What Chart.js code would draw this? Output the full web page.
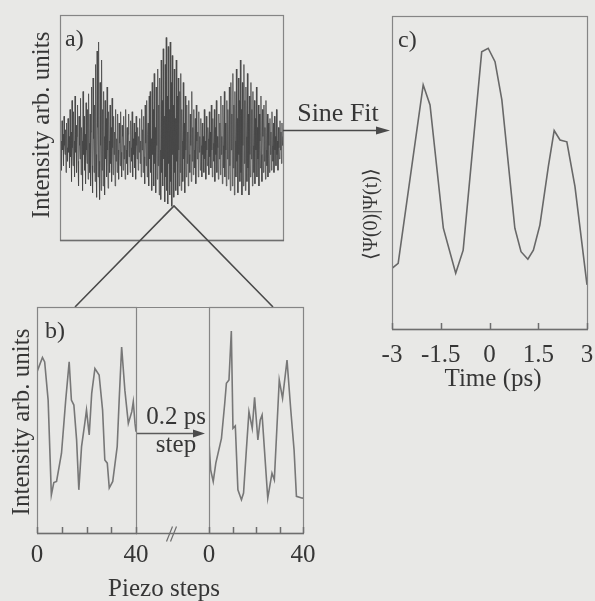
<!DOCTYPE html>
<html>
<head>
<meta charset="utf-8">
<script src="https://cdn.jsdelivr.net/npm/chart.js@4.4.1/dist/chart.umd.min.js"></script>
<style>
  html, body { margin: 0; padding: 0; background: #e8e8e6; }
  #page { position: relative; width: 595px; height: 601px; overflow: hidden; background: #e8e8e6; }
  #page canvas { position: absolute; left: 0; top: 0; }
</style>
</head>
<body>
<div id="page">
  <canvas id="chartA" width="595" height="601"></canvas>
  <canvas id="chartB1" width="595" height="601"></canvas>
  <canvas id="chartB2" width="595" height="601"></canvas>
  <canvas id="chartC" width="595" height="601"></canvas>
</div>
<script>
// a) raw interferogram, two samples per pixel of scan (arb. units)
var rawIntensity = [
  50,36,44,31,53,40,47,33,55,42,38,49,30,52,41,35,54,39,46,32,
  58,37,48,26,62,41,33,57,44,28,64,39,51,30,46,60,35,24,55,42,
  36,63,29,50,44,22,66,38,55,31,47,25,61,40,34,58,27,65,43,30,
  56,24,48,68,33,21,72,45,30,60,26,78,38,19,84,50,28,88,35,18,
  70,42,22,80,31,58,24,66,46,20,62,36,54,28,68,40,23,57,44,30,
  60,34,50,26,63,41,29,55,38,48,24,58,35,45,30,56,40,27,52,43,
  33,57,39,28,51,46,31,55,36,42,27,58,40,34,50,29,47,56,37,44,
  30,53,41,35,57,28,45,38,52,32,48,27,55,42,36,50,31,46,39,54,
  34,44,28,58,40,49,30,55,37,25,60,43,33,62,28,47,52,24,64,36,
  66,30,45,22,70,38,58,24,74,34,50,21,68,42,27,76,33,60,20,72,
  40,18,80,30,62,24,85,36,55,17,78,28,90,22,64,16,86,34,58,20,
  88,26,70,15,82,38,60,19,76,30,54,22,80,35,64,20,72,40,24,66,
  30,74,22,58,44,26,70,36,52,21,64,40,28,60,34,48,24,62,38,30,
  56,42,26,66,35,50,29,58,40,32,54,25,60,44,36,48,28,57,39,46,
  31,54,42,28,52,38,46,30,58,36,44,27,55,40,33,50,45,29,57,37,
  48,32,60,40,28,54,43,35,58,26,50,38,62,30,46,41,27,56,36,52,
  29,64,38,46,25,60,42,32,66,28,52,40,24,62,36,58,27,48,68,33,
  22,70,40,56,24,74,32,60,20,66,44,28,76,35,54,21,72,38,62,26,
  80,30,58,20,70,42,24,78,34,62,22,68,46,26,74,32,56,20,64,38,
  28,70,36,58,24,66,42,30,62,25,54,40,68,28,50,36,60,24,56,44,
  32,64,38,26,58,46,30,60,35,50,27,62,40,33,56,28,52,42,30,54,
  38,48,31,57,42,35,52,30,55,40,46,33,58,38,44,31,50,41,36,53,
  40,48,34,52,42,46
];

// b) two piezo scans, 0.2 ps apart
var stepsLeft = [0,2.2,3.1,4.5,5.8,6.8,7.9,9.9,11.6,13.0,13.9,14.9,16.0,16.9,18.0,19.3,20.0,21.1,22.1,23.4,25.1,26.5,27.4,28.4,29.2,30.6,32.4,33.2,34.2,35.5,36.9,38.3,38.9,39.6,40];
var intensityLeft = [71.3,77.7,75.7,58.8,16.9,22.3,22.8,35.3,58.8,75.7,58.8,56.6,41.2,19.1,38.2,48.5,54.4,43.4,61.8,72.8,69.9,54.4,32.3,30.9,19.9,22.8,38.2,58.8,82.3,63.2,48.5,53.7,58.1,48.5,44.8];
var stepsRight = [0,0.7,1.8,2.9,5.3,6.7,7.4,8.5,9.5,10.2,11.2,12.3,13.8,14.7,15.9,17.0,18.4,19.4,20.8,21.8,22.6,23.6,25.0,26.8,27.8,29.9,31.3,33.2,34.8,36.2,37.2,39.7,40];
var intensityRight = [40.4,27.9,22.8,30.9,41.9,57.4,66.2,67.7,89.4,46.3,47.4,19.1,14.7,17.7,36.8,53.7,46.3,60.0,41.2,50.0,52.2,36.8,15.4,26.5,23.5,67.7,59.6,76.5,54.4,36.8,16.2,15.4,15.6];
var stepTicks = [0, 10, 20, 30, 40];
var stepLabels = [0, 40];

// c) overlap from the sine fit
var timePs = [-3.0,-2.81,-2.04,-1.83,-1.42,-1.04,-0.81,-0.24,-0.04,0.17,0.38,0.78,0.97,1.18,1.35,1.55,1.81,1.99,2.17,2.38,2.63,3.0];
var overlap = [19.4,21.0,78.0,71.6,32.2,17.8,25.2,88.6,89.7,85.4,73.2,32.2,24.7,22.3,25.2,33.2,51.9,63.4,60.4,59.8,45.5,14.1];
var timeTicks = [-3, -1.5, 0, 1.5, 3];

var SERIF = '"Liberation Serif", "Times New Roman", serif';
var INK = '#363636';
var PAGE_W = 595, PAGE_H = 601;

// box, ticks and labels of one panel, placed with the panel's own x scale
var framePlugin = {
    id: 'frame',
    afterDatasetsDraw: function (chart, args, opts) {
        var ctx = chart.ctx, a = chart.chartArea, xs = chart.scales.x;
        ctx.save();
        ctx.strokeStyle = '#858585';
        ctx.lineWidth = 1.2;
        ctx.strokeRect(a.left + 0.5, a.top + 0.5, a.right - a.left, a.bottom - a.top);
        ctx.strokeStyle = '#6e6e6e';
        ctx.lineWidth = 1.5;
        ctx.beginPath();
        ctx.moveTo(a.left, a.bottom + 0.5);
        ctx.lineTo(a.right + 1, a.bottom + 0.5);
        ctx.stroke();
        (opts.ticks || []).forEach(function (t) {
            var px = Math.round(xs.getPixelForValue(t)) + 0.5;
            ctx.beginPath();
            ctx.moveTo(px, a.bottom);
            ctx.lineTo(px, a.bottom - 6);
            ctx.stroke();
        });
        ctx.fillStyle = INK;
        ctx.font = '25px ' + SERIF;
        ctx.textAlign = 'center';
        ctx.textBaseline = 'middle';
        (opts.labels || []).forEach(function (t) {
            ctx.fillText(String(t), xs.getPixelForValue(t), a.bottom + opts.labelGap);
        });
        if (opts.letter) {
            ctx.textAlign = 'left';
            ctx.textBaseline = 'alphabetic';
            ctx.font = '24px ' + SERIF;
            ctx.fillText(opts.letter, a.left + opts.letterDx, a.top + 31);
        }
        ctx.restore();
    }
};

// arrows, connectors and axis titles that sit between panels
var notesPlugin = {
    id: 'notes',
    afterDraw: function (chart) {
        var ctx = chart.ctx;
        ctx.save();
        ctx.strokeStyle = '#4a4a4a';
        ctx.fillStyle = '#4a4a4a';
        ctx.lineWidth = 1.6;
        // zoom connector a) -> b)
        ctx.beginPath();
        ctx.moveTo(75, 307); ctx.lineTo(174, 206); ctx.lineTo(273, 307);
        ctx.stroke();
        // sine fit arrow
        ctx.beginPath(); ctx.moveTo(283, 130.5); ctx.lineTo(378, 130.5); ctx.stroke();
        ctx.beginPath(); ctx.moveTo(390, 130.5); ctx.lineTo(376, 126.5); ctx.lineTo(376, 134.5); ctx.closePath(); ctx.fill();
        // b) frame across the gap
        ctx.strokeStyle = '#858585';
        ctx.lineWidth = 1.2;
        ctx.beginPath(); ctx.moveTo(136, 307.5); ctx.lineTo(209, 307.5); ctx.stroke();
        ctx.strokeStyle = '#6e6e6e';
        ctx.lineWidth = 1.5;
        ctx.beginPath(); ctx.moveTo(136, 533.5); ctx.lineTo(209, 533.5); ctx.stroke();
        // axis break
        ctx.lineWidth = 1.2;
        ctx.beginPath();
        ctx.moveTo(166.5, 541.5); ctx.lineTo(172.5, 526.5);
        ctx.moveTo(170.5, 541.5); ctx.lineTo(176.5, 526.5);
        ctx.stroke();
        // 0.2 ps step arrow
        ctx.strokeStyle = '#5a5a5a';
        ctx.fillStyle = '#4a4a4a';
        ctx.lineWidth = 1.3;
        ctx.beginPath(); ctx.moveTo(136, 433.5); ctx.lineTo(196, 433.5); ctx.stroke();
        ctx.beginPath(); ctx.moveTo(205, 433.5); ctx.lineTo(193, 429.5); ctx.lineTo(193, 437.5); ctx.closePath(); ctx.fill();

        ctx.fillStyle = INK;
        ctx.textAlign = 'center';
        ctx.textBaseline = 'alphabetic';
        ctx.font = '26px ' + SERIF;
        ctx.fillText('Sine Fit', 338, 121);
        ctx.font = '25px ' + SERIF;
        ctx.fillText('0.2 ps', 176, 424);
        ctx.fillText('step', 176, 452);
        ctx.textBaseline = 'middle';
        ctx.fillText('Piezo steps', 164, 589);
        ctx.fillText('Time (ps)', 493, 379);

        function vtext(txt, x, y, size) {
            ctx.save();
            ctx.translate(x, y);
            ctx.rotate(-Math.PI / 2);
            ctx.font = size + 'px ' + SERIF;
            ctx.fillText(txt, 0, 0);
            ctx.restore();
        }
        vtext('Intensity arb. units', 42, 125, 25);
        vtext('Intensity arb. units', 22, 422, 25);
        vtext('\u27E8\u03A8(0)|\u03A8(t)\u27E9', 372, 214, 20);
        ctx.restore();
    }
};

function panel(id, box, points, xMin, xMax, lineColor, lineWidth, frame, extra) {
    return new Chart(document.getElementById(id).getContext('2d'), {
        type: 'line',
        data: {
            datasets: [{
                data: points,
                borderColor: lineColor,
                borderWidth: lineWidth,
                pointRadius: 0,
                tension: 0,
                fill: false
            }]
        },
        options: {
            responsive: false,
            animation: false,
            events: [],
            layout: {
                padding: { left: box.left, top: box.top, right: PAGE_W - box.right, bottom: PAGE_H - box.bottom }
            },
            scales: {
                x: { type: 'linear', min: xMin, max: xMax, display: false },
                y: { type: 'linear', min: 0, max: 100, display: false }
            },
            plugins: {
                legend: { display: false },
                tooltip: { enabled: false },
                frame: frame
            }
        },
        plugins: [framePlugin].concat(extra || [])
    });
}

function pairs(xs, ys) {
    return xs.map(function (x, i) { return { x: x, y: ys[i] }; });
}

panel('chartA', { left: 60, top: 15, right: 283, bottom: 240 },
    rawIntensity.map(function (v, i) { return { x: i, y: v }; }),
    0, rawIntensity.length - 1, 'rgba(70,70,70,0.85)', 0.9,
    { letter: 'a)', letterDx: 5 }, [notesPlugin]);

panel('chartB1', { left: 37, top: 307, right: 136, bottom: 533 },
    pairs(stepsLeft, intensityLeft), 0, 40, '#777777', 1.6,
    { ticks: stepTicks, labels: stepLabels, labelGap: 22, letter: 'b)', letterDx: 8 });

panel('chartB2', { left: 209, top: 307, right: 303, bottom: 533 },
    pairs(stepsRight, intensityRight), 0, 40, '#777777', 1.6,
    { ticks: stepTicks, labels: stepLabels, labelGap: 22 });

panel('chartC', { left: 392, top: 16, right: 587, bottom: 329 },
    pairs(timePs, overlap), -3, 3, '#686868', 1.6,
    { ticks: timeTicks, labels: timeTicks, labelGap: 26, letter: 'c)', letterDx: 6 });
</script>
</body>
</html>
